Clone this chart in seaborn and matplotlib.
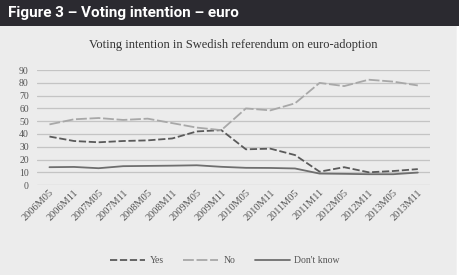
import pandas as pd
import matplotlib.pyplot as plt
import seaborn as sns
from matplotlib.patches import Rectangle, FancyBboxPatch

periods = ['2006M05', '2006M11', '2007M05', '2007M11', '2008M05', '2008M11',
           '2009M05', '2009M11', '2010M05', '2010M11', '2011M05', '2011M11',
           '2012M05', '2012M11', '2013M05', '2013M11']
yes = [38, 34.5, 33.5, 34.5, 35, 36.5, 42, 43, 28, 28.5, 23.5, 10.5, 14, 10, 11, 12.5]
no = [47.5, 51.5, 52.5, 51, 52, 48.5, 45, 43, 60, 58.5, 64, 80, 77.5, 82.5, 81, 78]
dont_know = [14, 14.2, 13.2, 14.8, 15, 15.2, 15.5, 14.3, 13.5, 13.4, 13, 9, 8.8, 8.5, 8.5, 9.8]
series = ['Yes', 'No', "Don't know"]

df = pd.DataFrame({
    'period': periods * 3,
    'value': yes + no + dont_know,
    'series': ['Yes'] * 16 + ['No'] * 16 + ["Don't know"] * 16,
})

sns.set_style('white')
plt.rcParams['font.family'] = ['Liberation Serif', 'DejaVu Serif']

fig = plt.figure(figsize=(4.59, 2.75), dpi=100)
fig.patch.set_facecolor('white')

# panel and header (drawn behind the axes)
panel = FancyBboxPatch((0, -0.05), 0.995, 1.0, boxstyle='round,pad=0,rounding_size=0.035',
                       transform=fig.transFigure, facecolor='#ececec', edgecolor='none')
panel.set_zorder(-2)
fig.patches.append(panel)
header = Rectangle((0, 0.905), 1, 0.095, transform=fig.transFigure,
                   facecolor='#2b2a30', edgecolor='none')
header.set_zorder(-1)
fig.patches.append(header)
fig.text(0.018, 0.952, 'Figure 3 \u2013 Voting intention \u2013 euro', color='white',
         fontsize=11, fontweight='bold', family=['Roboto', 'DejaVu Sans'], va='center', ha='left')

ax = fig.add_axes([0.081, 0.327, 0.856, 0.418])
ax.set_zorder(2)
ax.set_facecolor('none')
sns.lineplot(data=df, x='period', y='value', hue='series', style='series', ax=ax,
             hue_order=series, style_order=series,
             palette={'Yes': '#5a5a5a', 'No': '#a8a8a8', "Don't know": '#6e6e6e'},
             dashes={'Yes': (4, 1.5), 'No': (6, 1.5), "Don't know": ''},
             linewidth=1.3, legend=True)

ax.set_ylim(0, 90)
ax.set_xlim(-0.5, 15.5)
ax.set_yticks(range(0, 91, 10))
ax.yaxis.grid(True, color='#c4c4c4', linewidth=0.9)
ax.set_axisbelow(True)
for s in ax.spines.values():
    s.set_visible(False)
ax.set_xlabel('')
ax.set_ylabel('')
ax.tick_params(axis='y', labelsize=7, labelcolor='#555555', pad=6, length=0)
ax.tick_params(axis='x', labelsize=7.5, labelcolor='#555555', pad=2, length=0)
plt.setp(ax.get_xticklabels(), rotation=45, ha='right', va='top', rotation_mode='anchor')

ax.set_title('Voting intention in Swedish referendum on euro-adoption', fontsize=9,
             color='#333333', pad=16)

handles, labels = ax.get_legend_handles_labels()
ax.legend_.remove()
fig.legend(handles, labels, loc='center', bbox_to_anchor=(0.49, 0.052), ncol=3, frameon=False,
           fontsize=7, handlelength=3.6, handletextpad=0.5, columnspacing=2.0,
           labelcolor='#555555')

fig.savefig('out.png', dpi=100)
